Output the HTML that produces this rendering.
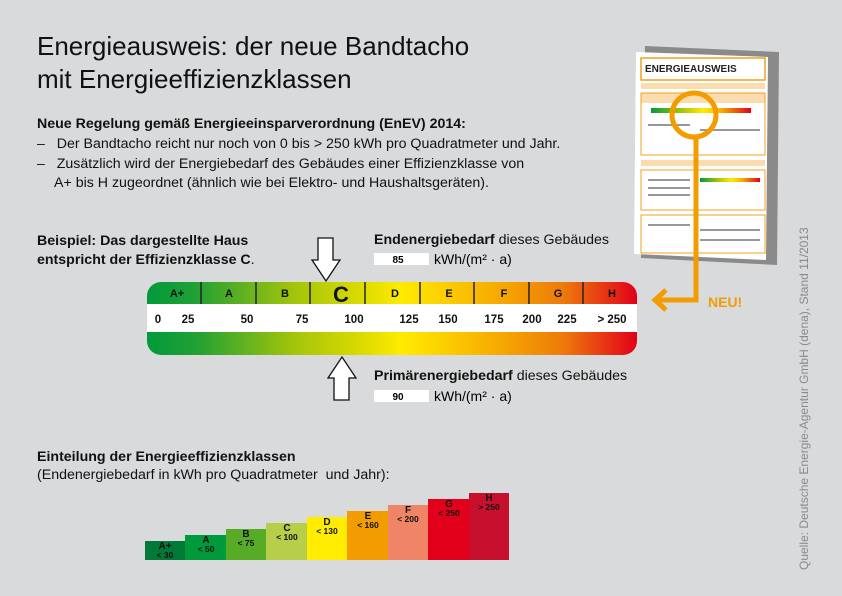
<!DOCTYPE html>
<html><head><meta charset="utf-8"><style>
body{margin:0;width:842px;height:596px;background:#d9dadb;position:relative;overflow:hidden;font-family:"Liberation Sans",sans-serif;color:#111}
.a{position:absolute;white-space:nowrap}
.t{font-size:26px;left:37px;line-height:33px}
.s{font-size:14.2px}
b{font-weight:bold}
</style></head><body>
<div class="a t" style="top:30px">Energieausweis: der neue Bandtacho<br>mit Energieeffizienzklassen</div>
<div class="a s" style="left:37px;top:116px"><b>Neue Regelung gemäß Energieeinsparverordnung (EnEV) 2014:</b></div>
<div class="a s" style="left:37px;top:136px">–&nbsp;&nbsp; Der Bandtacho reicht nur noch von 0 bis &gt; 250 kWh pro Quadratmeter und Jahr.</div>
<div class="a s" style="left:37px;top:156px">–&nbsp;&nbsp; Zusätzlich wird der Energiebedarf des Gebäudes einer Effizienzklasse von</div>
<div class="a s" style="left:54px;top:175px">A+ bis H zugeordnet (ähnlich wie bei Elektro- und Haushaltsgeräten).</div>
<div class="a s" style="left:37px;top:232px;line-height:19px"><b>Beispiel: Das dargestellte Haus<br>entspricht der Effizienzklasse C</b>.</div>
<div class="a s" style="left:374px;top:232px"><b>Endenergiebedarf</b> dieses Gebäudes</div>
<div class="a s" style="left:374px;top:368px"><b>Primärenergiebedarf</b> dieses Gebäudes</div>
<div class="a s" style="left:37px;top:448px;line-height:18px"><b>Einteilung der Energieeffizienzklassen</b><br>(Endenergiebedarf in kWh pro Quadratmeter&nbsp; und Jahr):</div>
<div class="a" style="left:797px;top:570px;transform:rotate(-90deg);transform-origin:0 0;font-size:12px;color:#8a8a8a">Quelle: Deutsche Energie-Agentur GmbH (dena), Stand 11/2013</div>
<svg class="a" style="left:0;top:0" width="842" height="596" font-family="Liberation Sans,sans-serif">
<defs>
<linearGradient id="g" x1="147" x2="637" gradientUnits="userSpaceOnUse">
<stop offset="0" stop-color="#009a3a"/><stop offset=".1" stop-color="#22a035"/><stop offset=".3" stop-color="#a3c40a"/><stop offset=".45" stop-color="#e0dd00"/><stop offset=".52" stop-color="#ffeb00"/><stop offset=".7" stop-color="#f7b000"/><stop offset=".85" stop-color="#ed7a0a"/><stop offset="1" stop-color="#e2001a"/>
</linearGradient>
<linearGradient id="g2">
<stop offset="0" stop-color="#009a3a"/><stop offset=".3" stop-color="#a3c40a"/><stop offset=".52" stop-color="#ffeb00"/><stop offset=".7" stop-color="#f7b000"/><stop offset="1" stop-color="#e2001a"/>
</linearGradient>
<clipPath id="c"><rect x="147" y="282" width="490" height="73" rx="14"/></clipPath>
</defs>
<g clip-path="url(#c)">
<rect x="147" y="282" width="490" height="73" fill="url(#g)"/>
<rect x="147" y="304" width="490" height="28" fill="#fff"/>
</g>
<g stroke="#222" stroke-width="1.5">
<line x1="201" y1="282" x2="201" y2="304"/><line x1="256" y1="282" x2="256" y2="304"/><line x1="310" y1="282" x2="310" y2="304"/><line x1="365" y1="282" x2="365" y2="304"/><line x1="420" y1="282" x2="420" y2="304"/><line x1="474" y1="282" x2="474" y2="304"/><line x1="529" y1="282" x2="529" y2="304"/><line x1="583" y1="282" x2="583" y2="304"/>
</g>
<g font-size="11" font-weight="bold" text-anchor="middle" fill="#111">
<text x="177" y="297">A+</text><text x="229" y="297">A</text><text x="285" y="297">B</text><text x="395" y="297">D</text><text x="449" y="297">E</text><text x="504" y="297">F</text><text x="558" y="297">G</text><text x="612" y="297">H</text>
<text x="341" y="302" font-size="22">C</text>
<g font-size="11.5"><text x="158" y="323">0</text><text x="188" y="323">25</text><text x="247" y="323">50</text><text x="302" y="323">75</text><text x="354" y="323">100</text><text x="409" y="323">125</text><text x="448" y="323">150</text><text x="494" y="323">175</text><text x="532" y="323">200</text><text x="567" y="323">225</text><text x="612" y="323">&gt; 250</text></g>
</g>
<path d="M318 238h15v22h7l-14 21-14-21h6z" fill="#fff" stroke="#111" stroke-width="1.3"/>
<path d="M334 400h15v-22h7l-14-21-14 21h6z" fill="#fff" stroke="#111" stroke-width="1.3"/>
<rect x="374" y="253" width="55" height="12" fill="#fff"/><text x="398" y="263" font-size="10" font-weight="bold" text-anchor="middle">85</text>
<text x="434" y="264" font-size="14">kWh/(m² · a)</text>
<rect x="374" y="390" width="55" height="12" fill="#fff"/><text x="398" y="400" font-size="10" font-weight="bold" text-anchor="middle">90</text>
<text x="434" y="401" font-size="14">kWh/(m² · a)</text>
<g>
<rect x="145" y="541" width="40" height="19" fill="#007a36"/>
<rect x="185" y="535" width="41" height="25" fill="#009a3a"/>
<rect x="226" y="529" width="40" height="31" fill="#58ab27"/>
<rect x="266" y="523" width="41" height="37" fill="#b7ce4a"/>
<rect x="307" y="517" width="40" height="43" fill="#ffec00"/>
<rect x="347" y="511" width="41" height="49" fill="#f39c00"/>
<rect x="388" y="505" width="40" height="55" fill="#ef8466"/>
<rect x="428" y="499" width="41" height="61" fill="#e2001a"/>
<rect x="469" y="493" width="40" height="67" fill="#c8102e"/>
</g>
<g font-size="10" font-weight="bold" text-anchor="middle" fill="#111">
<text x="165" y="549">A+</text><text x="165" y="558" font-size="8.5">&lt; 30</text>
<text x="206" y="543">A</text><text x="206" y="552" font-size="8.5">&lt; 50</text>
<text x="246" y="537">B</text><text x="246" y="546" font-size="8.5">&lt; 75</text>
<text x="287" y="531">C</text><text x="287" y="540" font-size="8.5">&lt; 100</text>
<text x="327" y="525">D</text><text x="327" y="534" font-size="8.5">&lt; 130</text>
<text x="368" y="519">E</text><text x="368" y="528" font-size="8.5">&lt; 160</text>
<text x="408" y="513">F</text><text x="408" y="522" font-size="8.5">&lt; 200</text>
<text x="449" y="507">G</text><text x="449" y="516" font-size="8.5">&lt; 250</text>
<text x="489" y="501">H</text><text x="489" y="510" font-size="8.5">&gt; 250</text>
</g>
<polygon points="645,46 779,52 777,265 641,258" fill="#8a8a8a"/>
<polygon points="636,52 768,57 766,260 634,254" fill="#fff"/>
<rect x="641" y="58" width="124" height="22" fill="none" stroke="#f0a020" stroke-width="1.5"/>
<text x="645" y="72" font-size="10" font-weight="bold" fill="#222">ENERGIEAUSWEIS</text>
<rect x="641" y="83" width="124" height="6" fill="#fbdcae"/>
<rect x="641" y="93" width="124" height="10" fill="#fbdcae"/>
<rect x="641" y="93" width="124" height="62" fill="none" stroke="#f0a020"/>
<rect x="651" y="108" width="100" height="5" fill="url(#g2)"/>
<rect x="641" y="160" width="124" height="6" fill="#fbdcae"/>
<rect x="641" y="170" width="124" height="40" fill="none" stroke="#f0a020"/>
<rect x="700" y="178" width="60" height="4" fill="url(#g2)"/>
<g stroke="#777" stroke-width="1.5"><line x1="648" y1="180" x2="690" y2="180"/><line x1="648" y1="188" x2="690" y2="188"/><line x1="648" y1="195" x2="690" y2="195"/><line x1="648" y1="225" x2="690" y2="225"/><line x1="700" y1="230" x2="760" y2="230"/><line x1="700" y1="240" x2="760" y2="240"/><line x1="648" y1="125" x2="690" y2="125"/><line x1="700" y1="130" x2="760" y2="130"/></g>
<rect x="641" y="215" width="124" height="38" fill="none" stroke="#f0a020"/>
<circle cx="694" cy="115" r="22" fill="none" stroke="#f39c00" stroke-width="5"/>
<polyline points="696,137 696,300 658,300" fill="none" stroke="#f39c00" stroke-width="5"/>
<polyline points="666,290 655,300 666,310" fill="none" stroke="#f39c00" stroke-width="5"/>
<text x="708" y="307" font-size="14" font-weight="bold" fill="#f39c00">NEU!</text>
</svg>
</body></html>
